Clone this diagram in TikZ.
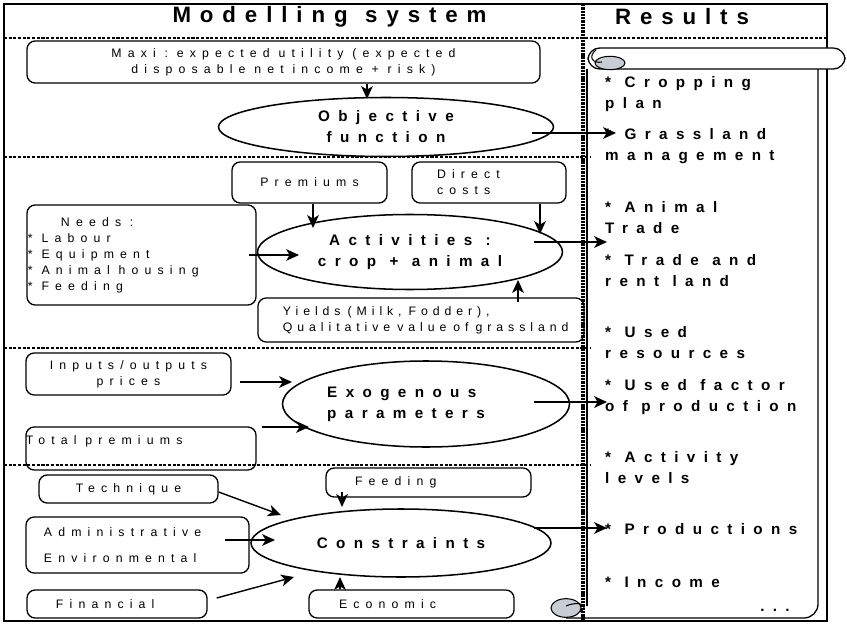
\documentclass[tikz,border=0pt]{standalone}
\usepackage{fontspec}
\setmainfont{Liberation Sans}
\newfontfamily\thinsp[LetterSpace=50]{Liberation Sans}
\newfontfamily\thicksp[LetterSpace=55]{Liberation Sans}
\newfontfamily\titlesp[LetterSpace=40]{Liberation Sans}
\newcommand\wordsp[1]{\spaceskip=#1\relax\xspaceskip=#1\relax}
\usetikzlibrary{shapes.geometric,arrows.meta}
\definecolor{curl}{RGB}{200,204,212}

\begin{document}
\begin{tikzpicture}[x=0.03cm,y=-0.03cm,
  box/.style={draw,line width=1.1pt,rounded corners=7pt,inner sep=0pt,align=center,
    font={\thinsp\fontsize{10.5}{13.7}\selectfont},execute at begin node={\wordsp{7.5pt}}},
  oval/.style={draw,ellipse,line width=1.3pt,inner sep=0pt,align=center,
    font={\thicksp\bfseries\fontsize{13}{18}\selectfont},execute at begin node={\wordsp{11.5pt}}},
  res/.style={anchor=north west,inner sep=0pt,align=left,
    font={\thicksp\bfseries\fontsize{13}{18}\selectfont},execute at begin node={\wordsp{11.5pt}}},
  headtxt/.style={inner sep=0pt,font={\titlesp\bfseries\fontsize{19}{22}\selectfont},
    execute at begin node={\wordsp{15pt}}},
  arr/.style={line width=1.2pt,-{Stealth[length=11pt,width=10pt,inset=3pt]}},
  divline/.style={line width=1.8pt,dash pattern=on 2.6pt off 1.4pt}]
\useasboundingbox (0,0) rectangle (847,624);

%frame and bands
\draw[line width=1pt] (4,4) rectangle (827,621);
\draw[divline] (4,38) -- (827,38);
\draw[divline] (4,157) -- (591,157);
\draw[divline] (4,348) -- (591,348);
\draw[divline] (4,465) -- (591,465);
\draw[divline,line width=2.6pt,dash pattern=on 2pt off 0.8pt] (583,4) -- (583,621);

%scroll
\draw[line width=1.1pt] (587,69) -- (587,606);
\draw[line width=1.1pt,rounded corners=12pt] (566,618) -- (818,618) -- (818,69);
\filldraw[fill=curl,line width=0.9pt] (566,608) ellipse [x radius=0.45cm,y radius=0.28cm];
\draw[line width=0.9pt] (566,606) .. controls (580,600) and (590,606) .. (580,612);
\draw[line width=1.1pt,fill=white,rounded corners=10pt] (588,48) rectangle (845,69);
\filldraw[fill=curl,line width=0.9pt] (610,63) ellipse [x radius=0.45cm,y radius=0.2cm];
\draw[line width=0.9pt] (596,50) .. controls (588,56) and (592,64) .. (602,62);

%titles
\node[headtxt] (tmod) at (329.5,17) {Modelling system};
\node[headtxt] (tres) at (682,17) {Results};

%objective row
\node[box,minimum width=15.39cm,minimum height=1.26cm] (maxi) at (283.5,62)
  {Maxi : expected utility (expected\\disposable net income + risk)};
\node[oval,minimum width=10.05cm,minimum height=1.77cm] (obj) at (386,127) {Objective\\function};

%activities row
\node[box,minimum width=4.65cm,minimum height=1.23cm] (prem) at (309.5,182.5) {Premiums};
\node[box,minimum width=4.62cm,minimum height=1.23cm,align=left,text width=3.12cm] (dcost) at (489,182.5) {Direct\\costs};
\node[box,minimum width=6.87cm,minimum height=3cm,align=left,text width=6.81cm] (needs) at (141.5,255)
  {\hspace*{0.99cm}Needs :\\{*} Labour\\{*} Equipment\\{*} Animal housing\\{*} Feeding};
\node[box,minimum width=9.78cm,minimum height=1.32cm,align=left,text width=8.28cm] (yields) at (421,320)
  {\addfontfeature{LetterSpace=40}\wordsp{6pt}\mbox{Yields (Milk, Fodder),}\\\mbox{Qualitative value of grassland}};
\node[oval,minimum width=9.15cm,minimum height=2.25cm] (act) at (410,252) {Activities :\\crop + animal};

%exogenous row
\node[box,minimum width=6.15cm,minimum height=1.26cm] (inp) at (128.5,374) {Inputs/outputs\\prices};
\node[box,minimum width=6.9cm,minimum height=1.29cm,align=left,text width=6.9cm] (tot) at (141,448.5) {Total premiums\\\mbox{}};
\node[oval,minimum width=8.61cm,minimum height=2.58cm,align=left] (exo) at (426,404)
  {Exogenous\hspace*{1.2cm}\\parameters\hspace*{1.2cm}};

%constraints row
\node[box,minimum width=5.37cm,minimum height=0.84cm] (tech) at (128.5,489) {Technique};
\node[box,minimum width=6.15cm,minimum height=0.87cm,align=left,text width=4.41cm] (feed) at (428.5,482.5) {Feeding};
\node[box,minimum width=6.69cm,minimum height=1.68cm,align=left,text width=5.61cm] (admin) at (137.5,545)
  {Administrative\\[9pt]Environmental};
\node[box,minimum width=5.4cm,minimum height=0.84cm,align=left,text width=3.66cm] (fin) at (117,604) {Financial};
\node[box,minimum width=6.15cm,minimum height=0.84cm,align=left,text width=4.35cm] (eco) at (411.5,604) {Economic};
\node[oval,minimum width=9cm,minimum height=2.04cm] (cons) at (401,543) {Constraints};

%results
\node[res] (res1) at (605,76) {* Cropping\\plan};
\node[res] (res2) at (605,128) {* Grassland\\management};
\node[res] (res3) at (605,201) {* Animal\\Trade};
\node[res] (res4) at (605,254) {* Trade and\\rent land};
\node[res] (res5) at (605,326) {* Used\\resources};
\node[res] (res6) at (605,379) {* Used factor\\of production};
\node[res] (res7) at (605,451) {* Activity\\levels};
\node[res] (res8) at (605,523) {* Productions};
\node[res] (res9) at (605,577) {* Income};
\node[res,anchor=center] (more) at (775,610) {...};

%arrow ends
\coordinate (o1) at (367,99);
\coordinate (a1) at (313,228);
\coordinate (a2) at (540,234);
\coordinate (a3) at (299,255);
\coordinate (a4) at (518,280);
\coordinate (e1) at (292,382);
\coordinate (e2) at (309,427);
\coordinate (c1) at (281,515);
\coordinate (c2) at (275,540);
\coordinate (c3) at (294,577);
\coordinate (c4) at (340,577);
\coordinate (c5) at (342,507);
\coordinate (r1) at (616,133);
\coordinate (r2) at (607,242);
\coordinate (r3) at (607,402);
\coordinate (r4) at (607,528);

%arrows
\draw[arr] (maxi.south -| o1) -- (o1);
\draw[arr] (obj.east) ++(-22,6) -- (r1);
\draw[arr] (prem.south -| a1) -- (a1);
\draw[arr] (dcost.south -| a2) -- (a2);
\draw[arr] (needs.east) ++(-8,0) -- (a3);
\draw[arr] (yields.north -| a4) ++(0,5) -- (a4);
\draw[arr] (act.east) ++(-29,-10) -- (r2);
\draw[arr] (inp.east) ++(8,8) -- (e1);
\draw[arr] (tot.east) ++(5,-21.5) -- (e2);
\draw[arr] (exo.east) ++(-36,-2) -- (r3);
\draw[arr] (tech.east) ++(0,3) -- (c1);
\draw[arr] (admin.east) ++(-25,-5) -- (c2);
\draw[arr] (fin.east) ++(9,-6) -- (c3);
\draw[arr] (eco.north -| c4) -- (c4);
\draw[arr] (feed.south -| c5) ++(0,-6) -- (c5);
\draw[arr] (cons.east) ++(-18,-15) -- (r4);
\end{tikzpicture}
\end{document}
